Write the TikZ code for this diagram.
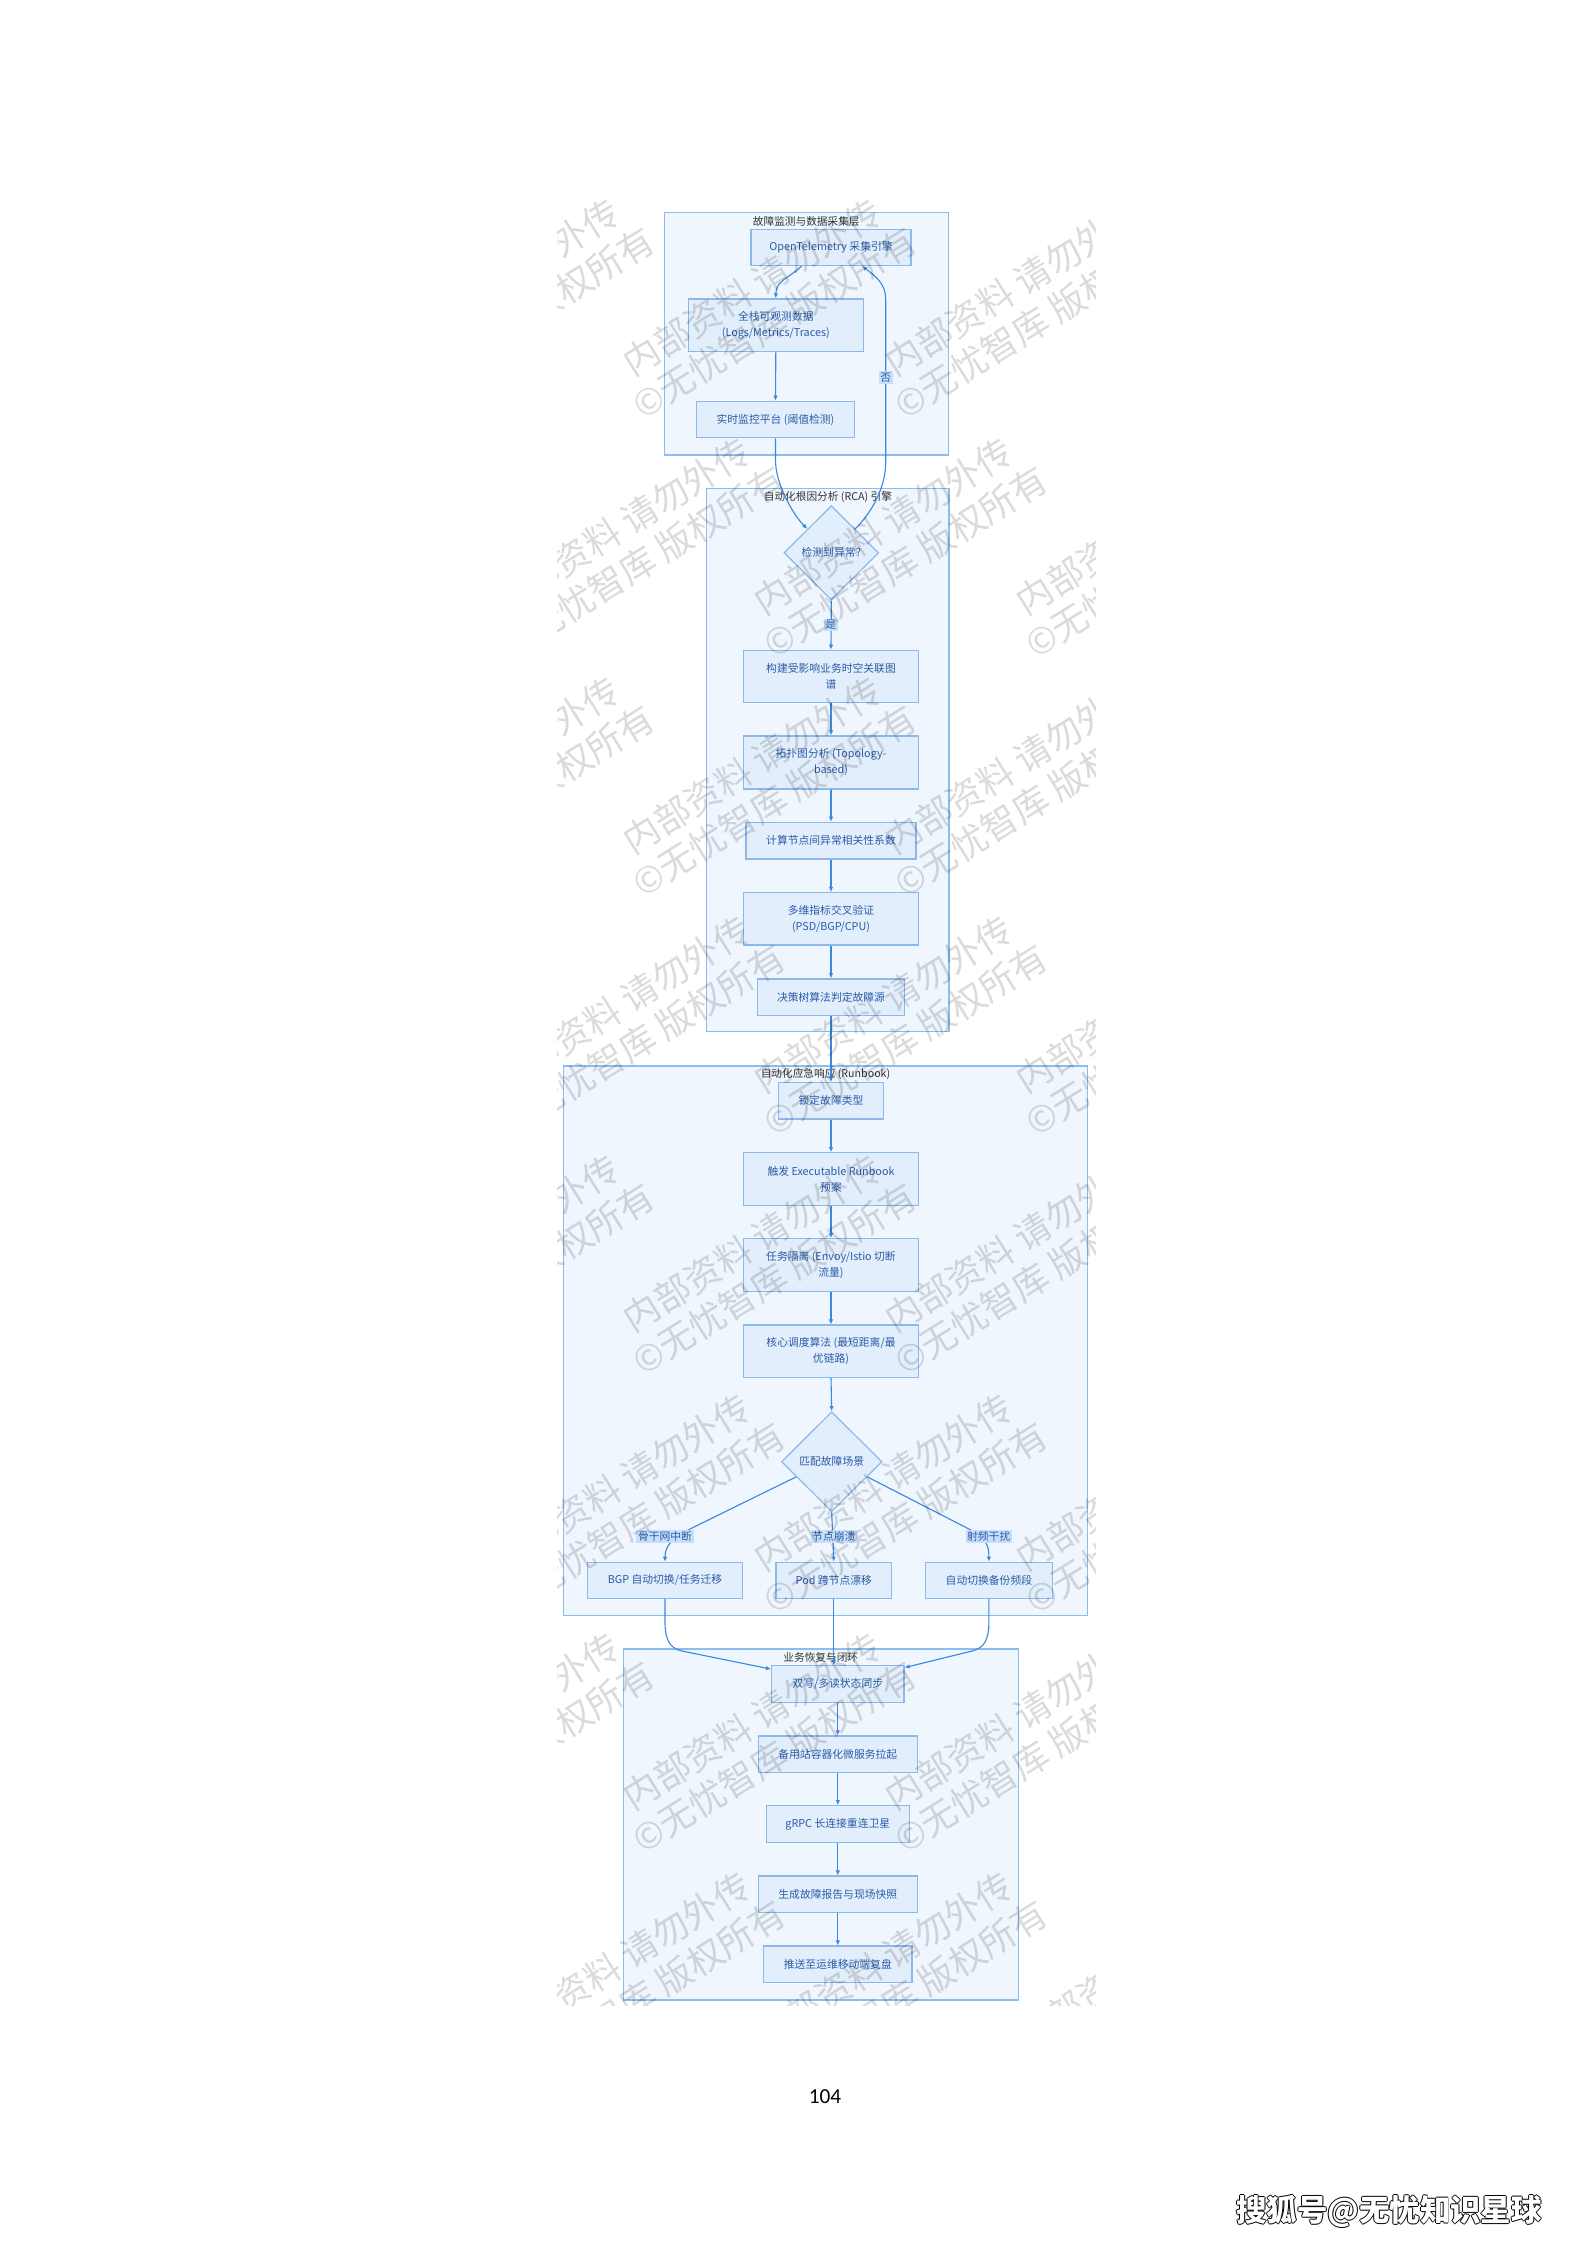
\documentclass[tikz,border=0pt]{standalone}
\usepackage{fontspec}
\setmainfont{Noto Sans CJK SC}
\newfontfamily\numfont{Carlito}
\usetikzlibrary{shapes.geometric,arrows.meta,calc}
\definecolor{clfill}{HTML}{EFF6FE}
\definecolor{clstroke}{HTML}{8DBCEE}
\definecolor{ndfill}{HTML}{E2EEFB}
\definecolor{ndstroke}{HTML}{8CB9EA}
\definecolor{edgec}{HTML}{3C88DE}
\definecolor{lblfill}{HTML}{C7DFF8}
\definecolor{txtc}{HTML}{2B5CA8}
\definecolor{ttlc}{HTML}{333333}
\tikzset{
  sz/.style 2 args={minimum width=#1*0.375pt, minimum height=#2*0.375pt},
  nd/.style={draw=ndstroke, fill=ndfill, line width=0.45pt, inner sep=0pt,
    text=txtc, font=\fontsize{4.05pt}{6pt}\selectfont, align=center},
  dia/.style={diamond, draw=ndstroke, fill=ndfill, line width=0.45pt, inner sep=0pt,
    text=txtc, font=\fontsize{4.05pt}{6pt}\selectfont, align=center},
  cl/.style={draw=clstroke, fill=clfill, line width=0.5pt, inner sep=0pt},
  ttl/.style={text=ttlc, font=\fontsize{4.0pt}{5pt}\selectfont, inner sep=0pt},
  ed/.style={draw=edgec, line width=0.42pt, -{Latex[length=1.9pt,width=1.7pt]}},
  lbl/.style={fill=lblfill, text=txtc, inner sep=0.6pt, font=\fontsize{4.05pt}{5pt}\selectfont},
  wm/.style={rotate=32, align=center, inner sep=0pt, text=black, text opacity=0.14,
    font=\fontsize{13.5pt}{15.75pt}\selectfont},
  foottxt/.style={font=\bfseries\fontsize{11.4pt}{12pt}\selectfont, inner sep=0pt},
}
\begin{document}
\begin{tikzpicture}[x=0.375pt,y=-0.375pt]
\fill[white] (0,0) rectangle (1587,2245);
\useasboundingbox (0,0) rectangle (1587,2245);

% clusters
\node[cl, sz={284}{242.7}] (c1) at (806.3,333.65) {};
\node[ttl] (t1) at (806.3,221) {故障监测与数据采集层};
\node[cl, sz={242.3}{543.4}] (c2) at (827.85,760) {};
\node[ttl] (t2) at (827.9,497) {自动化根因分析 (RCA) 引擎};
\node[cl, sz={524.2}{549.7}] (c3) at (825.5,1340.85) {};
\node[ttl] (t3) at (825.5,1074.5) {自动化应急响应 (Runbook)};
\node[cl, sz={395}{351}] (c4) at (820.8,1824.5) {};
\node[ttl] (t4) at (820.8,1657.5) {业务恢复与闭环};

% cluster 1
\node[nd, sz={160}{36}] (n1) at (831,247.3) {OpenTelemetry 采集引擎};
\node[nd, sz={175}{52.7}] (n2) at (775.8,325.3) {全栈可观测数据\\(Logs/Metrics/Traces)};
\node[nd, sz={157.6}{36.4}] (n3) at (775.5,419.5) {实时监控平台 (阈值检测)};

% cluster 2
\node[dia, sz={94.7}{94.3}] (d1) at (831.3,552.8) {检测到异常?};
\node[nd, sz={174.6}{52}] (n4) at (831,676.3) {构建受影响业务时空关联图\\谱};
\node[nd, sz={174.6}{53}] (n5) at (831,762.5) {拓扑图分析 (Topology-\\based)};
\node[nd, sz={170}{36.7}] (n6) at (831,840.7) {计算节点间异常相关性系数};
\node[nd, sz={174.6}{52.3}] (n7) at (831,918.8) {多维指标交叉验证\\(PSD/BGP/CPU)};
\node[nd, sz={147.7}{36.7}] (n8) at (831,997.3) {决策树算法判定故障源};

% cluster 3
\node[nd, sz={105}{36.7}] (n9) at (831,1100.7) {锁定故障类型};
\node[nd, sz={175}{52.6}] (n10) at (831,1179) {触发 Executable Runbook\\预案};
\node[nd, sz={175}{52.6}] (n11) at (831,1265) {任务隔离 (Envoy/Istio 切断\\流量)};
\node[nd, sz={175}{52.3}] (n12) at (831,1351.2) {核心调度算法 (最短距离/最\\优链路)};
\node[dia, sz={100.6}{100}] (d2) at (831.7,1461.7) {匹配故障场景};
\node[nd, sz={155}{36}] (n13) at (665,1580.3) {BGP 自动切换/任务迁移};
\node[nd, sz={115.7}{36}] (n14) at (833.8,1580.3) {Pod 跨节点漂移};
\node[nd, sz={127}{36}] (n15) at (988.9,1580.3) {自动切换备份频段};

% cluster 4
\node[nd, sz={132.3}{36.6}] (n16) at (837.8,1684) {双写/多读状态同步};
\node[nd, sz={159}{36.7}] (n17) at (837.8,1754.3) {备用站容器化微服务拉起};
\node[nd, sz={143}{36.6}] (n18) at (837.8,1824) {gRPC 长连接重连卫星};
\node[nd, sz={159}{36.3}] (n19) at (837.8,1894.2) {生成故障报告与现场快照};
\node[nd, sz={148.3}{36.3}] (n20) at (837.8,1964.2) {推送至运维移动端复盘};

% edges cluster 1/2
\draw[ed] ($(n1.south)+(-29.3,0)$) .. controls +(-12,12) and +(0,-18) .. (n2.north);
\draw[ed] (n2.south) -- (n3.north);
\draw[ed] (n3.south) -- ++(0,22) .. controls +(0,24) and +(-14,-14) .. (d1.north west);
\draw[ed] (d1.north east) .. controls +(16,-16) and +(0,26) .. (885.7,462) -- (885.7,300)
  .. controls +(0,-18) and +(12,10) .. ($(n1.south)+(31.3,0)$);
\node[lbl] (lno) at (885.7,377.3) {否};
\draw[ed] (d1.south) -- (n4.north);
\node[lbl] (lyes) at (831,625) {是};
\draw[ed] (n4.south) -- (n5.north);
\draw[ed] (n5.south) -- (n6.north);
\draw[ed] (n6.south) -- (n7.north);
\draw[ed] (n7.south) -- (n8.north);
\draw[ed] (n8.south) -- (n9.north);

% edges cluster 3
\draw[ed] (n9.south) -- (n10.north);
\draw[ed] (n10.south) -- (n11.north);
\draw[ed] (n11.south) -- (n12.north);
\draw[ed] (n12.south) -- (d2.north);
\draw[ed] ($(d2.west)!0.3!(d2.south)$) -- (692,1528) .. controls +(-20,10) and +(0,-16) .. (n13.north);
\draw[ed] (d2.south) -- (n14.north);
\draw[ed] ($(d2.east)!0.3!(d2.south)$) -- (967,1528) .. controls +(20,10) and +(0,-16) .. (n15.north);
\node[lbl] (l1) at (665,1536.7) {骨干网中断};
\node[lbl] (l2) at (833.8,1536.7) {节点崩溃};
\node[lbl] (l3) at (988.7,1536.7) {射频干扰};

% edges to cluster 4
\draw[ed] (n13.south) -- (665,1622) .. controls +(0,18) and +(-12,-2.6) .. (682,1651) -- ($(n16.north west)+(0,4)$);
\draw[ed] (n14.south) -- (n14.south |- n16.north);
\draw[ed] (n15.south) -- (988.9,1622) .. controls +(0,18) and +(12,-3) .. (972,1651) -- ($(n16.north east)+(0,2.5)$);
\draw[ed] (n16.south) -- (n17.north);
\draw[ed] (n17.south) -- (n18.north);
\draw[ed] (n18.south) -- (n19.north);
\draw[ed] (n19.south) -- (n20.north);

% watermark
\begin{scope}
\clip (557,198) rectangle (1095,2005);
\foreach \cy in {305,783,1261,1739}{
  \foreach \cx in {501,763,1025}{
    \node[wm] (wa\cx\cy) at (\cx,\cy) {内部资料 请勿外传\\©无忧智库 版权所有};
  }
}
\foreach \cy in {544,1022,1500,1978}{
  \foreach \cx in {632,894,1156}{
    \node[wm] (wb\cx\cy) at (\cx,\cy) {内部资料 请勿外传\\©无忧智库 版权所有};
  }
}
\end{scope}

% page number and footer
\node[font=\numfont\fontsize{8pt}{9pt}\selectfont, inner sep=0pt] (pg) at (825,2096.7) {104};
\foreach \dx/\dy [count=\i] in {-0.9/0,0.9/0,0/-0.9,0/0.9}{
  \node[foottxt, text=black] (fs\i) at (1389+\dx,2211.7+\dy) {搜狐号@无忧知识星球};
}
\node[foottxt, text=white] (foot) at (1389,2211.7) {搜狐号@无忧知识星球};
\end{tikzpicture}
\end{document}
